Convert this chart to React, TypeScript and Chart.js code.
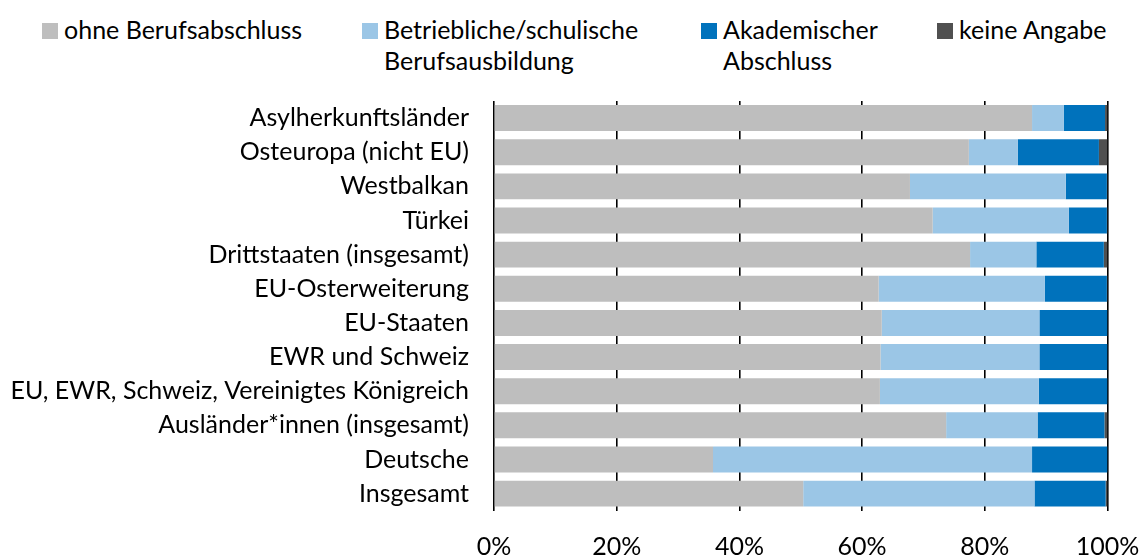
import React, { useEffect, useRef } from "react";
import { Chart, registerables } from "chart.js";

Chart.register(...registerables);

const categories = [
  "Asylherkunftsländer",
  "Osteuropa (nicht EU)",
  "Westbalkan",
  "Türkei",
  "Drittstaaten (insgesamt)",
  "EU-Osterweiterung",
  "EU-Staaten",
  "EWR und Schweiz",
  "EU, EWR, Schweiz, Vereinigtes Königreich",
  "Ausländer*innen (insgesamt)",
  "Deutsche",
  "Insgesamt",
];

const ohneBerufsabschluss = [87.7, 77.4, 67.8, 71.5, 77.6, 62.7, 63.2, 63.0, 62.9, 73.7, 35.7, 50.4];
const betrieblicheAusbildung = [5.2, 8.0, 25.4, 22.2, 10.8, 27.1, 25.7, 25.9, 25.9, 14.9, 52.0, 37.7];
const akademischerAbschluss = [6.7, 13.2, 6.7, 6.2, 11.0, 10.1, 11.1, 11.1, 11.2, 10.9, 12.3, 11.6];
const keineAngabe = [0.4, 1.4, 0.1, 0.1, 0.6, 0.1, 0.0, 0.0, 0.0, 0.5, 0.0, 0.3];

const tickValues = [0, 20, 40, 60, 80, 100];

const FONT = "Lato";
const FONT_SIZE = 25;

const legendItems = [
  { label: ["ohne Berufsabschluss"], color: "#BEBEBE", left: 34 },
  { label: ["Betriebliche/schulische", "Berufsausbildung"], color: "#9BC6E6", left: 354 },
  { label: ["Akademischer", "Abschluss"], color: "#0072BC", left: 693 },
  { label: ["keine Angabe"], color: "#505050", left: 929 },
];

export default function App() {
  const ref = useRef<HTMLCanvasElement>(null);
  useEffect(() => {
    if (!ref.current) return;
    const chart = new Chart(ref.current, {
      type: "bar",
      data: {
        labels: categories,
        datasets: [
          { label: "ohne Berufsabschluss", data: ohneBerufsabschluss, backgroundColor: "#BEBEBE" },
          { label: "Betriebliche/schulische Berufsausbildung", data: betrieblicheAusbildung, backgroundColor: "#9BC6E6" },
          { label: "Akademischer Abschluss", data: akademischerAbschluss, backgroundColor: "#0072BC" },
          { label: "keine Angabe", data: keineAngabe, backgroundColor: "#505050" },
        ],
      },
      options: {
        indexAxis: "y",
        animation: false,
        responsive: false,
        maintainAspectRatio: false,
        layout: { padding: { top: 93, right: 31.5, left: 0, bottom: 0 } },
        datasets: { bar: { categoryPercentage: 1, barPercentage: 0.76 } },
        plugins: { legend: { display: false }, tooltip: { enabled: false } },
        scales: {
          x: {
            stacked: true,
            min: 0,
            max: 100,
            afterBuildTicks: (s: any) => {
              s.ticks = tickValues.map((v) => ({ value: v }));
            },
            afterFit: (s: any) => {
              s.height = 47.3;
              s.paddingLeft = 0;
              s.paddingRight = 0;
            },
            grid: { color: "#000", lineWidth: 1.6, drawTicks: false },
            border: { display: false },
            ticks: {
              padding: 21,
              color: "#000",
              font: { family: FONT, size: FONT_SIZE },
              callback: (v: any) => v + "%",
              maxRotation: 0,
            },
          },
          y: {
            stacked: true,
            afterFit: (s: any) => {
              s.width = 486;
              s.paddingTop = 0;
              s.paddingBottom = 0;
            },
            grid: { display: false },
            border: { display: false },
            ticks: { padding: 17, color: "#000", font: { family: FONT, size: FONT_SIZE } },
          },
        },
      },
    } as any);
    return () => chart.destroy();
  }, []);

  return (
    <div style={{ position: "relative", width: 1131, height: 550, fontFamily: FONT, color: "#000" }}>
      {legendItems.map((it, i) => (
        <div key={i} style={{ position: "absolute", left: it.left, top: 6, fontSize: FONT_SIZE, lineHeight: "31px" }}>
          <span
            style={{
              position: "absolute",
              left: 0,
              top: 9,
              width: 15.5,
              height: 15.5,
              background: it.color,
            }}
          />
          <div style={{ paddingLeft: 22, whiteSpace: "nowrap" }}>
            {it.label.map((l, j) => (
              <div key={j}>{l}</div>
            ))}
          </div>
        </div>
      ))}
      <canvas ref={ref} width={1131} height={550} style={{ position: "absolute", left: 0, top: 0 }} />
    </div>
  );
}
